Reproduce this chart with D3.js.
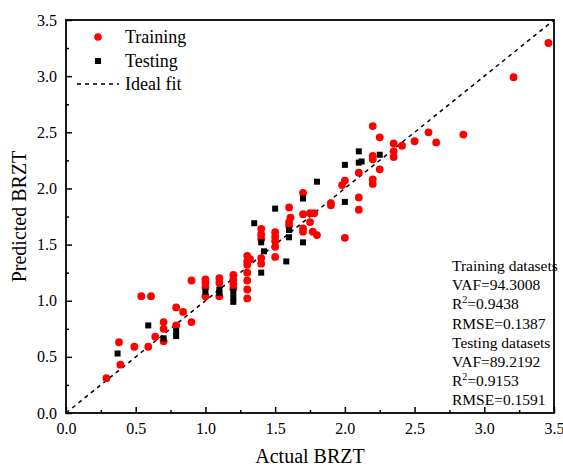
<!DOCTYPE html>
<html>
<head>
<meta charset="utf-8">
<script src="https://cdn.jsdelivr.net/npm/d3@7"></script>
<style>
  body { margin: 0; background: #fff; }
  svg text { font-family: "Liberation Serif", "Times New Roman", serif; fill: #000; }
</style>
</head>
<body>
<div id="chart"></div>
<script>
// measured vs predicted BRZT
const trainX = [0.29, 0.38, 0.39, 0.49, 0.54, 0.61, 0.59, 0.64, 0.70, 0.70, 0.70, 0.79, 0.79, 0.84, 0.90, 0.90,
  1.0, 1.0, 1.0, 1.0, 1.1, 1.1, 1.1, 1.2, 1.2, 1.2, 1.2,
  1.3, 1.32, 1.3, 1.3, 1.3, 1.3, 1.3, 1.3,
  1.4, 1.4, 1.4, 1.4, 1.4, 1.5, 1.5, 1.5, 1.5, 1.5,
  1.6, 1.61, 1.6, 1.6, 1.7, 1.7, 1.7, 1.7,
  1.75, 1.78, 1.75, 1.77, 1.80, 1.90, 1.90, 2.0, 1.98, 2.0,
  2.1, 2.1, 2.1, 2.2, 2.2, 2.2, 2.2, 2.2, 2.25, 2.25,
  2.35, 2.35, 2.35, 2.41, 2.50, 2.60, 2.655, 2.85, 3.21, 3.46];
const trainY = [0.31, 0.63, 0.43, 0.59, 1.04, 1.04, 0.59, 0.68, 0.81, 0.75, 0.64, 0.94, 0.78, 0.90, 0.81, 1.18,
  1.19, 1.16, 1.12, 1.04, 1.20, 1.16, 1.04, 1.23, 1.19, 1.15, 1.11,
  1.40, 1.37, 1.35, 1.32, 1.25, 1.18, 1.10, 1.02,
  1.64, 1.59, 1.55, 1.38, 1.33, 1.61, 1.57, 1.53, 1.48, 1.39,
  1.83, 1.74, 1.70, 1.67, 1.96, 1.77, 1.645, 1.615,
  1.78, 1.78, 1.70, 1.615, 1.585, 1.87, 1.85, 2.07, 2.03, 1.56,
  2.14, 1.92, 1.81, 2.555, 2.29, 2.26, 2.08, 2.04, 2.455, 2.17,
  2.40, 2.33, 2.28, 2.38, 2.42, 2.50, 2.41, 2.48, 2.99, 3.295];

const testX = [0.37, 0.59, 0.70, 0.79, 0.79, 1.0, 1.1, 1.1, 1.2, 1.2, 1.2,
  1.35, 1.4, 1.42, 1.4, 1.5, 1.58, 1.6, 1.6, 1.7, 1.7, 1.8,
  2.0, 2.0, 2.1, 2.1, 2.12, 2.25];
const testY = [0.53, 0.78, 0.665, 0.73, 0.685, 1.08, 1.10, 1.07, 1.08, 1.03, 0.99,
  1.69, 1.52, 1.44, 1.25, 1.82, 1.35, 1.63, 1.565, 1.91, 1.52, 2.06,
  1.88, 2.21, 2.33, 2.23, 2.24, 2.30];

const majorTicks = [0, 0.5, 1.0, 1.5, 2.0, 2.5, 3.0, 3.5];
const minorTicks = [0.25, 0.75, 1.25, 1.75, 2.25, 2.75, 3.25];
const statLines = ["Training datasets", "VAF=94.3008", "R2=0.9438", "RMSE=0.1387",
  "Testing datasets", "VAF=89.2192", "R2=0.9153", "RMSE=0.1591"];

const width = 563, height = 468;
const plotL = 66, plotR = 554, plotT = 20, plotB = 413;

const svg = d3.select("#chart").append("svg")
    .attr("width", width)
    .attr("height", height);

const x = d3.scaleLinear().domain([0, 3.5]).range([plotL, plotR]);
const y = d3.scaleLinear().domain([0, 3.5]).range([plotB, plotT]);

// ideal fit
svg.append("line")
    .attr("x1", x(0)).attr("y1", y(0))
    .attr("x2", x(3.5)).attr("y2", y(3.5))
    .attr("stroke", "#000")
    .attr("stroke-width", 1.5)
    .attr("stroke-dasharray", "4,4");

// points
svg.selectAll(".train")
  .data(trainX.map((d, i) => [d, trainY[i]]))
  .join("circle")
    .attr("cx", d => x(d[0]))
    .attr("cy", d => y(d[1]))
    .attr("r", 3.9)
    .attr("fill", "#f00");

svg.selectAll(".test")
  .data(testX.map((d, i) => [d, testY[i]]))
  .join("rect")
    .attr("x", d => x(d[0]) - 3)
    .attr("y", d => y(d[1]) - 3)
    .attr("width", 6)
    .attr("height", 6)
    .attr("fill", "#000");

// axes
const fmt = d3.format(".1f");
function styleAxis(g) {
  g.select(".domain").remove();
  g.selectAll("line").attr("stroke", "#000").attr("stroke-width", 1.5);
  g.selectAll("text").style("font-size", "16px");
}

svg.append("g")
    .attr("transform", `translate(0,${plotB})`)
    .call(d3.axisBottom(x).tickValues(majorTicks).tickSize(-6).tickPadding(10).tickFormat(fmt))
    .call(styleAxis)
    .attr("font-family", null);
svg.append("g")
    .attr("transform", `translate(0,${plotB})`)
    .call(d3.axisBottom(x).tickValues(minorTicks).tickSize(-3).tickFormat(""))
    .call(styleAxis);

svg.append("g")
    .attr("transform", `translate(${plotL},0)`)
    .call(d3.axisLeft(y).tickValues(majorTicks).tickSize(-6).tickPadding(9).tickFormat(fmt))
    .call(styleAxis)
    .attr("font-family", null);
svg.append("g")
    .attr("transform", `translate(${plotL},0)`)
    .call(d3.axisLeft(y).tickValues(minorTicks).tickSize(-3).tickFormat(""))
    .call(styleAxis);

// frame
svg.append("rect")
    .attr("x", plotL).attr("y", plotT)
    .attr("width", plotR - plotL).attr("height", plotB - plotT)
    .attr("fill", "none")
    .attr("stroke", "#000")
    .attr("stroke-width", 1.8);

// axis titles
svg.append("text")
    .attr("x", (plotL + plotR) / 2)
    .attr("y", 463)
    .attr("text-anchor", "middle")
    .style("font-size", "20px")
    .text("Actual BRZT");

svg.append("text")
    .attr("transform", `translate(26,${(plotT + plotB) / 2}) rotate(-90)`)
    .attr("text-anchor", "middle")
    .style("font-size", "20px")
    .text("Predicted BRZT");

// legend
const leg = svg.append("g");
leg.append("circle").attr("cx", 98).attr("cy", 37).attr("r", 3.8).attr("fill", "#f00");
leg.append("rect").attr("x", 95).attr("y", 58).attr("width", 6).attr("height", 6).attr("fill", "#000");
leg.append("line")
    .attr("x1", 77).attr("x2", 119).attr("y1", 84).attr("y2", 84)
    .attr("stroke", "#000").attr("stroke-width", 1.5).attr("stroke-dasharray", "4,4");
["Training", "Testing", "Ideal fit"].forEach((t, i) => {
  leg.append("text")
      .attr("x", 125)
      .attr("y", 43 + i * 23.5)
      .style("font-size", "18px")
      .text(t);
});

// stats text
const stats = svg.append("g");
statLines.forEach((t, i) => {
  const txt = stats.append("text")
      .attr("x", 452)
      .attr("y", 271 + i * 19.2)
      .style("font-size", "15.5px");
  if (t.startsWith("R2")) {
    txt.append("tspan").text("R");
    txt.append("tspan").attr("dy", -6).style("font-size", "10px").text("2");
    txt.append("tspan").attr("dy", 6).text(t.slice(2));
  } else {
    txt.text(t);
  }
});
</script>
</body>
</html>
